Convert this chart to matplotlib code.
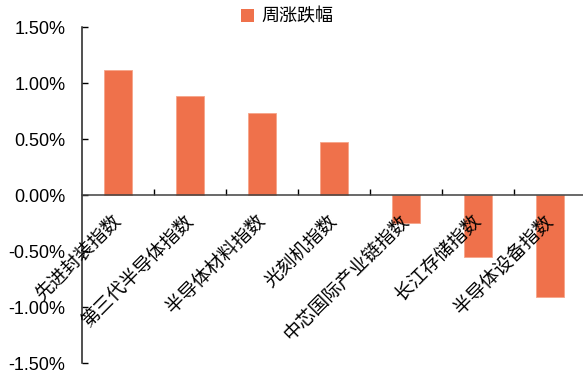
import matplotlib
matplotlib.use("Agg")
import matplotlib.pyplot as plt
from matplotlib.patches import Patch
from matplotlib.ticker import FuncFormatter

plt.rcParams['font.family'] = ['Liberation Sans', 'Noto Sans CJK SC']
plt.rcParams['axes.unicode_minus'] = False

# Weekly change of semiconductor sub-indices (%)
categories = ["先进封装指数", "第三代半导体指数", "半导体材料指数", "光刻机指数",
              "中芯国际产业链指数", "长江存储指数", "半导体设备指数"]
weekly_change = [1.12, 0.88, 0.73, 0.47, -0.25, -0.55, -0.91]
series_name = "周涨跌幅"

bar_color = "#EF714B"

W, H = 583, 378
fig = plt.figure(figsize=(W / 100, H / 100), dpi=100)
ax = fig.add_axes([82 / W, 15 / H, 504 / W, 336 / H])

x = list(range(len(categories)))
ax.bar(x, weekly_change, width=0.4, color=bar_color, edgecolor="#F6A589", linewidth=0.6)

ax.set_xlim(-0.5, len(categories) - 0.5)
ax.set_ylim(-1.5, 1.5)
ax.set_yticks([-1.5, -1.0, -0.5, 0.0, 0.5, 1.0, 1.5])
ax.yaxis.set_major_formatter(FuncFormatter(lambda v, p: f"{v:.2f}%"))

ax.set_xticks([i + 0.5 for i in x[:-1]])
ax.set_xticklabels([])

for s in ["top", "right"]:
    ax.spines[s].set_visible(False)
ax.spines["bottom"].set_position(("data", 0))
ax.spines["bottom"].set_color("#404040")
ax.spines["left"].set_color("#202020")
ax.spines["bottom"].set_linewidth(1.1)
ax.spines["left"].set_linewidth(1.1)

ax.tick_params(axis="y", direction="in", length=4, width=1, pad=12, labelsize=13)
ax.tick_params(axis="x", direction="in", length=4, width=1)

# category names hang below the zero line
for i, name in zip(x, categories):
    ax.text(i + 0.09, -0.15, name, rotation=45, ha="right", va="top",
            fontsize=13.5, color="black")

fig.legend([Patch(facecolor=bar_color)], [series_name], loc="center",
           bbox_to_anchor=(287 / W, 1 - 17 / H), frameon=False, fontsize=13,
           handlelength=0.7, handleheight=0.7, handletextpad=0.4)

fig.savefig("out.png", dpi=100)
